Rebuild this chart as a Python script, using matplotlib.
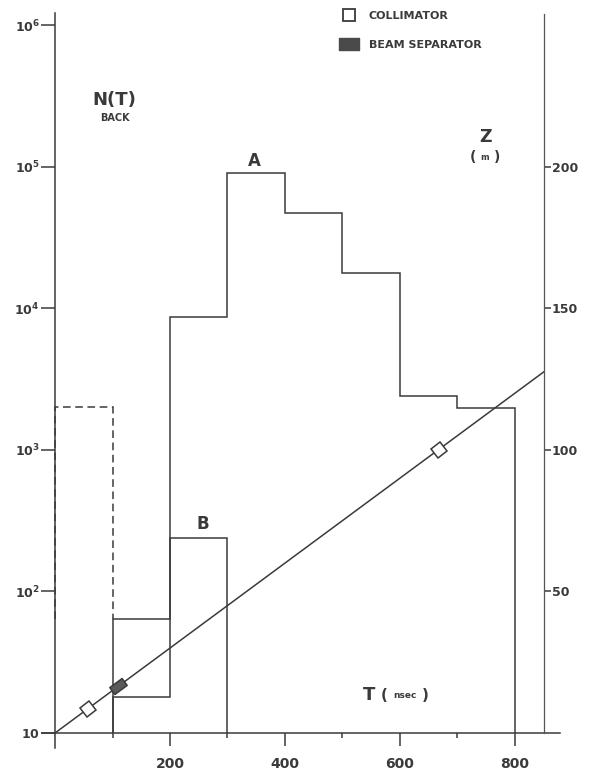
import matplotlib
matplotlib.use('Agg')
import matplotlib.pyplot as plt
import numpy as np
from matplotlib.markers import MarkerStyle
from matplotlib.path import Path
from matplotlib.transforms import Affine2D
from matplotlib.lines import Line2D

# histograms of N(T): A (solid), B, and the background estimate (dashed)
a_edges = [100, 200, 300, 400, 500, 600, 700, 800]
a_counts = [64, 8700, 90000, 47000, 17700, 2400, 1970]
b_edges = [100, 200, 300]
b_counts = [18, 238]
back_edges = [0, 100]
back_counts = [2000]

# Z(T) line and the elements placed on it
line_t = [0, 850]
line_z = [0, 127.5]
coll_t = [57, 668]
coll_z = [8.6, 100]
sep_t = [110]
sep_z = [16.5]

n_ticks = [10, 1e2, 1e3, 1e4, 1e5, 1e6]
n_labels = ['$\\mathbf{10}$', '$\\mathbf{10^2}$', '$\\mathbf{10^3}$',
            '$\\mathbf{10^4}$', '$\\mathbf{10^5}$', '$\\mathbf{10^6}$']
t_major = [200, 400, 600, 800]
t_minor = [100, 300, 500, 700]
z_ticks = [50, 100, 150, 200]

c = '#3a3a3a'
lw = 1.1
W, H = 596, 774


def px(x, y):
    return x / W, 1 - y / H


fig = plt.figure(figsize=(W / 100, H / 100), dpi=100)
ax = fig.add_axes([41.8 / W, 26 / H, 518 / W, 735 / H])
ax.set_yscale('log')
ax.set_xlim(-23, 878)
ax.set_ylim(10 ** 0.894, 10 ** 6.085)

for s in ['top', 'right']:
    ax.spines[s].set_visible(False)
ax.spines['left'].set_position(('data', 0))
ax.spines['bottom'].set_position(('data', 10))
for s in ['left', 'bottom']:
    ax.spines[s].set_linewidth(lw)
    ax.spines[s].set_color(c)

ax.yaxis.set_minor_locator(matplotlib.ticker.NullLocator())
ax.set_yticks(n_ticks)
ax.set_yticklabels(n_labels)
ax.set_xticks(t_major)
ax.set_xticks(t_minor, minor=True)
ax.set_xticklabels([str(t) for t in t_major], fontweight='bold')
ax.tick_params(axis='y', which='major', direction='out', length=10, width=lw,
               pad=1, labelsize=9, color=c, labelcolor=c)
ax.tick_params(axis='x', which='major', direction='out', length=9.4, width=lw,
               pad=8, labelsize=10, color=c, labelcolor=c)
ax.tick_params(axis='x', which='minor', direction='out', length=3.6, width=lw,
               color=c)

ax.stairs(a_counts, a_edges, baseline=10, color=c, lw=lw)
ax.stairs(b_counts, b_edges, baseline=10, color=c, lw=lw)
ax.stairs(back_counts, back_edges, baseline=a_counts[0], color=c, lw=lw,
          ls=(0, (5, 3)), zorder=1)

# right axis: Z in metres
ax2 = ax.twinx()
ax2.set_ylim((0.894 - 1) * 50, (6.085 - 1) * 50)
for s in ['top', 'left', 'bottom']:
    ax2.spines[s].set_visible(False)
ax2.spines['right'].set_position(('data', 850))
ax2.spines['right'].set_bounds(0, 254)
ax2.spines['right'].set_linewidth(0.9)
ax2.spines['right'].set_color('#555555')
ax2.set_yticks(z_ticks)
ax2.set_yticklabels([str(z) for z in z_ticks], fontweight='bold')
ax2.tick_params(axis='y', direction='out', length=5, width=lw, pad=1,
                labelsize=9, color=c, labelcolor=c)

ax2.plot(line_t, line_z, color=c, lw=lw, clip_on=False)

p0 = ax2.transData.transform((line_t[0], line_z[0]))
p1 = ax2.transData.transform((line_t[1], line_z[1]))
ang = np.degrees(np.arctan2(p1[1] - p0[1], p1[0] - p0[0]))

rect = Path([(-0.5, -0.28), (0.5, -0.28), (0.5, 0.28), (-0.5, 0.28), (-0.5, -0.28)],
            [Path.MOVETO, Path.LINETO, Path.LINETO, Path.LINETO, Path.CLOSEPOLY])

ax2.plot(coll_t, coll_z, ls='none', clip_on=False, zorder=3,
         marker=MarkerStyle('s', transform=Affine2D().rotate_deg(ang)),
         ms=8, mfc='white', mec=c, mew=lw)
ax2.plot(sep_t, sep_z, ls='none', clip_on=False, zorder=3,
         marker=MarkerStyle(rect, transform=Affine2D().rotate_deg(ang)),
         ms=11, mfc='#5a5a5a', mec=c, mew=lw)

# legend
h1 = Line2D([], [], ls='none', marker='s', ms=8, mfc='white', mec=c, mew=1.3)
h2 = Line2D([], [], ls='none', marker=MarkerStyle(rect), ms=15,
            mfc='#4a4a4a', mec='#4a4a4a')
fig.legend([h1, h2], ['COLLIMATOR', 'BEAM SEPARATOR'], loc='upper left',
           bbox_to_anchor=px(341, 11), frameon=False,
           prop=dict(size=8, weight='bold'), handlelength=1.5,
           handletextpad=1.0, labelspacing=1.7, borderpad=0,
           borderaxespad=0, labelcolor=c)

# annotations
tk = dict(color=c, fontweight='bold', ha='center', va='center')
fig.text(*px(114, 100), 'N(T)', fontsize=13, **tk)
fig.text(*px(115, 118), 'BACK', fontsize=7, **tk)
fig.text(*px(254, 161), 'A', fontsize=12, **tk)
fig.text(*px(203, 524), 'B', fontsize=12, **tk)
fig.text(*px(485, 137), 'Z', fontsize=12.5, **tk)
fig.text(*px(473, 157), '(', fontsize=10, **tk)
fig.text(*px(485, 158), 'm', fontsize=6, **tk)
fig.text(*px(497, 157), ')', fontsize=10, **tk)
fig.text(*px(369, 695), 'T', fontsize=13, **tk)
fig.text(*px(384, 695), '(', fontsize=11, **tk)
fig.text(*px(405, 696), 'nsec', fontsize=6.5, **tk)
fig.text(*px(425, 695), ')', fontsize=11, **tk)

fig.savefig('out.png', dpi=100)
